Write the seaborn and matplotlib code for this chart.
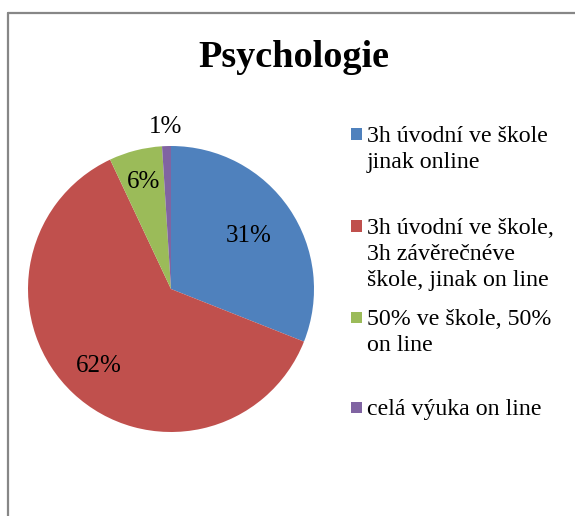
import numpy as np
import seaborn as sns
import matplotlib.pyplot as plt
from matplotlib.patches import Rectangle
from matplotlib.lines import Line2D

# data
labels = ['3h úvodní ve škole\njinak online',
          '3h úvodní ve škole,\n3h závěrečnéve\nškole, jinak on line',
          '50% ve škole, 50%\non line',
          'celá výuka on line']
shares = [31, 62, 6, 1]
pct_text = ['31%', '62%', '6%', '1%']
colors = ['#4F81BD', '#C0504D', '#9BBB59', '#8064A2']

sns.set_theme(style='white')
plt.rcParams['font.family'] = ['Liberation Serif', 'DejaVu Serif']

W, H = 575, 516
fig = plt.figure(figsize=(W / 100, H / 100), dpi=100)
fig.patch.set_facecolor('white')

# pie placement: centre (171, 289) px, radius 143 px
cx, cy, r = 171, 289, 143
lim = 1.1
ax = fig.add_axes([(cx - lim * r) / W, (H - cy - lim * r) / H, 2 * lim * r / W, 2 * lim * r / H])
wedges, _ = ax.pie(shares, colors=colors, startangle=90, counterclock=False,
                   wedgeprops=dict(linewidth=0))
ax.set_xlim(-lim, lim)
ax.set_ylim(-lim, lim)
ax.set_aspect('equal')
ax.axis('off')

# percentage labels
dists = [0.66, 0.74, 0.77, 1.13]
for w, txt, d in zip(wedges, pct_text, dists):
    ang = np.deg2rad((w.theta1 + w.theta2) / 2)
    ax.text(d * np.cos(ang), d * np.sin(ang), txt, ha='center', va='center',
            fontsize=18, color='black')

# title
fig.text(293.5 / W, (H - 67) / H, 'Psychologie', ha='center', va='baseline',
         fontsize=27.5, fontweight='bold', color='black')

# legend drawn by hand to match the spacing
baselines = [142, 234, 325, 415]
step = 26
sq = 11
for lab, col, yb in zip(labels, colors, baselines):
    fig.add_artist(Rectangle(((356 - sq / 2) / W, (H - yb + 8 - sq / 2) / H), sq / W, sq / H,
                             transform=fig.transFigure, facecolor=col, edgecolor='none'))
    for i, line in enumerate(lab.split('\n')):
        fig.text(367 / W, (H - yb - i * step) / H, line, ha='left', va='baseline',
                 fontsize=17.2, color='black')

# chart border (top and left visible)
bx, by = 7.5 / W, 1 - 13 / H
fig.add_artist(Line2D([bx, 1], [by, by], transform=fig.transFigure, color='#878787', lw=1.6))
fig.add_artist(Line2D([bx, bx], [0, by], transform=fig.transFigure, color='#878787', lw=1.6))

fig.savefig('out.png', dpi=100, facecolor='white')
